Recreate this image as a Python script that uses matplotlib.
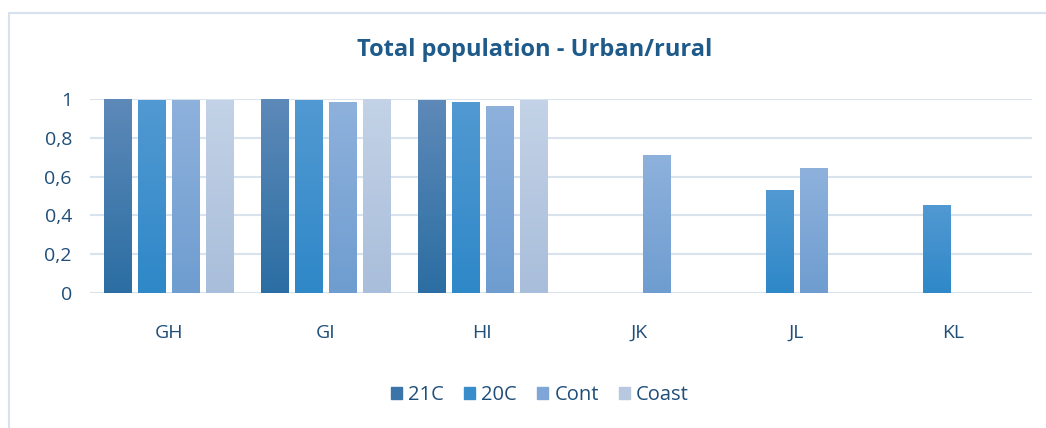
import matplotlib.pyplot as plt
import numpy as np
from matplotlib.colors import LinearSegmentedColormap
from matplotlib.patches import Rectangle

categories = ["GH", "GI", "HI", "JK", "JL", "KL"]
series_names = ["21C", "20C", "Cont", "Coast"]
v_21c = [1.00, 1.00, 0.99, 0, 0, 0]
v_20c = [0.99, 0.99, 0.98, 0, 0.53, 0.45]
v_cont = [0.99, 0.98, 0.96, 0.71, 0.64, 0]
v_coast = [0.99, 1.00, 0.99, 0, 0, 0]
all_values = [v_21c, v_20c, v_cont, v_coast]

# top / bottom colours of each bar gradient
top_colors = ["#5d89b8", "#5199d2", "#8eb1dc", "#c3d2e6"]
bottom_colors = ["#2c6ea3", "#2f88c8", "#6f9dd0", "#a9bedb"]
legend_colors = ["#3a74a8", "#3a8dcb", "#7fa6d6", "#b7c8e0"]

text_color = "#1f4e79"
title_color = "#1e5a8a"
grid_color = "#d9e3ee"

plt.rcParams["font.family"] = ["Open Sans", "DejaVu Sans"]

fig = plt.figure(figsize=(10.46, 4.28), dpi=100)
ax = fig.add_axes([90 / 1046, 1 - 293 / 428, 942 / 1046, 194 / 428])

# outer chart border
fig.patches.append(Rectangle((9 / 1046, -0.05), 1.1, 0.05 + (428 - 13) / 428,
                             transform=fig.transFigure, fill=False,
                             edgecolor="#d6e2ef", linewidth=1.5))

x = np.arange(len(categories))
step = 0.2166
width = 0.172
offsets = (np.arange(4) - 1.5) * step

for i, vals in enumerate(all_values):
    bars = ax.bar(x + offsets[i], vals, width=width, color="none",
                  edgecolor="none", label=series_names[i], zorder=3)
    cmap = LinearSegmentedColormap.from_list(
        f"g{i}", [bottom_colors[i], top_colors[i]])
    grad = np.linspace(0, 1, 64).reshape(-1, 1)
    for b in bars:
        h = b.get_height()
        if h <= 0:
            continue
        x0 = b.get_x()
        ax.imshow(grad, cmap=cmap, origin="lower", aspect="auto",
                  extent=(x0, x0 + b.get_width(), 0, h), zorder=3)

ax.set_xlim(-0.5, len(categories) - 0.5)
ax.set_ylim(0, 1)
ax.set_yticks([0, 0.2, 0.4, 0.6, 0.8, 1.0])
ax.set_yticklabels(["0", "0,2", "0,4", "0,6", "0,8", "1"])
ax.set_xticks(x)
ax.set_xticklabels(categories)
ax.tick_params(axis="both", length=0, labelsize=14, colors=text_color)
ax.tick_params(axis="y", pad=13)
ax.tick_params(axis="x", pad=22)
ax.grid(axis="y", color=grid_color, linewidth=1.5, zorder=0)
for s in ax.spines.values():
    s.set_visible(False)

fig.text(535 / 1046, 1 - 50 / 428, "Total population - Urban/rural",
         ha="center", va="center", fontsize=17, fontweight="bold",
         color=title_color)

handles = [Rectangle((0, 0), 1, 1, color=c) for c in legend_colors]
fig.legend(handles, series_names, loc="center", ncol=4,
           bbox_to_anchor=(540 / 1046, 1 - 395 / 428), frameon=False,
           fontsize=14.5, labelcolor=text_color, handlelength=0.55,
           handleheight=0.55, handletextpad=0.3, columnspacing=1.0)

fig.savefig("out.png", dpi=100, facecolor="white")
